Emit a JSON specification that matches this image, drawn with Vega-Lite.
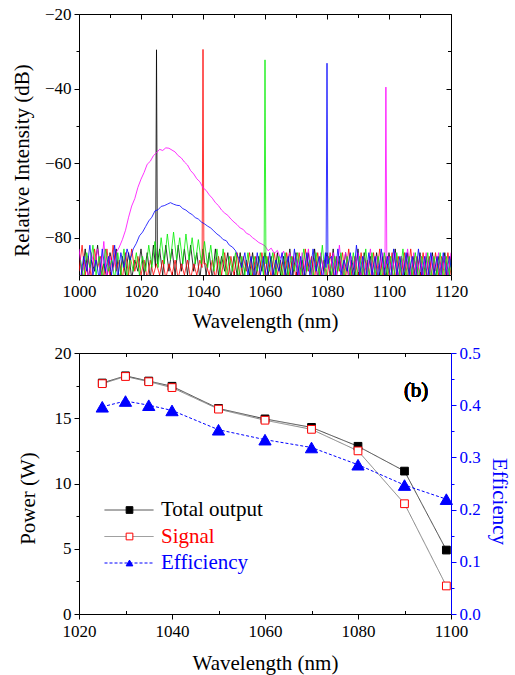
{
  "$schema": "https://vega.github.io/schema/vega-lite/v6.json",
  "background": "white",
  "padding": {"left": 11, "top": 5, "right": 5, "bottom": 5},
  "datasets": {
    "spec": [
      {"x":1000,"k":-84,"r":-89,"m":-83},{"x":1000.5,"g":-86,"b":-91},
      {"x":1001,"k":-90,"r":-82,"m":-90},{"x":1001.5,"g":-91,"b":-85},
      {"x":1002,"k":-83,"r":-90,"m":-86},{"x":1002.5,"g":-84,"b":-89},
      {"x":1003,"k":-91,"r":-85,"m":-91},{"x":1003.5,"g":-88,"b":-82},
      {"x":1004,"k":-86,"r":-91,"m":-84},{"x":1004.5,"g":-82,"b":-90},
      {"x":1005,"k":-89,"r":-83,"m":-88},{"x":1005.5,"g":-90,"b":-86},
      {"x":1006,"k":-82,"r":-88,"m":-83},{"x":1006.5,"g":-85,"b":-91},
      {"x":1007,"k":-90,"r":-85,"m":-90},{"x":1007.5,"g":-91,"b":-83},
      {"x":1008,"k":-87,"r":-91,"m":-81},{"x":1008.5,"g":-83,"b":-89},
      {"x":1009,"k":-91,"r":-83,"m":-91},{"x":1009.5,"g":-89,"b":-85},
      {"x":1010,"k":-84,"r":-90,"m":-85},{"x":1010.5,"g":-86,"b":-90},
      {"x":1011,"k":-88,"r":-82,"m":-89},{"x":1011.5,"g":-91,"b":-82},
      {"x":1012,"k":-83,"r":-89,"m":-84},{"x":1012.5,"g":-84,"b":-91},
      {"x":1013,"k":-92,"r":-86,"m":-82.5},{"x":1013.5,"g":-90,"b":-84},
      {"x":1014,"k":-85,"r":-91,"m":-80.5},{"x":1014.5,"g":-83,"b":-88},
      {"x":1015,"k":-90,"r":-84,"m":-78},{"x":1015.5,"g":-91,"b":-83},
      {"x":1016,"k":-84,"r":-90,"m":-74.5},{"x":1016.5,"g":-85,"b":-86},
      {"x":1017,"k":-91,"r":-83,"m":-71.5},{"x":1017.5,"g":-89,"b":-83},
      {"x":1018,"k":-86,"r":-89,"m":-69.5},{"x":1018.5,"g":-84,"b":-81.5},
      {"x":1019,"k":-89,"r":-85,"m":-66.5},{"x":1019.5,"g":-90,"b":-79.5},
      {"x":1020,"k":-83,"r":-90,"m":-64.3},{"x":1020.5,"g":-85,"b":-78.5},
      {"x":1021,"k":-90,"r":-86,"m":-62.5},{"x":1021.5,"g":-89,"b":-77},
      {"x":1022,"k":-84,"r":-91,"m":-60.3},{"x":1022.5,"g":-82,"b":-75.5},
      {"x":1023,"k":-91,"r":-86,"m":-59.5},{"x":1023.5,"g":-88,"b":-74.5},
      {"x":1024,"k":-82,"r":-90,"m":-58},{"x":1024.5,"g":-81,"b":-72.8},
      {"x":1024.7,"k":-88},
      {"x":1025,"k":-29.6,"r":-87,"m":-57.2},
      {"x":1025.3,"k":-87},{"x":1025.5,"g":-88,"b":-72.5},
      {"x":1026,"k":-83,"r":-90,"m":-56.3},{"x":1026.5,"g":-80,"b":-71.6},
      {"x":1027,"k":-90,"r":-86,"m":-56.6},{"x":1027.5,"g":-87,"b":-71.4},
      {"x":1028,"k":-82,"r":-91,"m":-55.9},{"x":1028.5,"g":-79,"b":-71.0},
      {"x":1029,"k":-89,"r":-87,"m":-56.0},{"x":1029.5,"g":-86,"b":-70.6},
      {"x":1030,"k":-83,"r":-90,"m":-56.5},{"x":1030.5,"g":-78.5,"b":-71.0},
      {"x":1031,"k":-90,"r":-86,"m":-57.0},{"x":1031.5,"g":-86,"b":-71.3},
      {"x":1032,"k":-82,"r":-91,"m":-58.0},{"x":1032.5,"g":-80,"b":-71.4},
      {"x":1033,"k":-89,"r":-87,"m":-58.6},{"x":1033.5,"g":-87,"b":-72.2},
      {"x":1034,"k":-83,"r":-90,"m":-59.7},{"x":1034.5,"g":-79,"b":-72.6},
      {"x":1035,"k":-90,"r":-86,"m":-60.5},{"x":1035.5,"g":-86,"b":-73.3},
      {"x":1036,"k":-82,"r":-91,"m":-62.0},{"x":1036.5,"g":-80,"b":-73.8},
      {"x":1037,"k":-89,"r":-87,"m":-62.9},{"x":1037.5,"g":-87,"b":-74.6},
      {"x":1038,"k":-84,"r":-90,"m":-64.2},{"x":1038.5,"g":-80.5,"b":-75.0},
      {"x":1039,"k":-91,"r":-86,"m":-65.0},{"x":1039.5,"g":-87,"b":-75.8},
      {"x":1039.7,"r":-88},
      {"x":1040,"k":-83,"r":-29.5,"m":-66.6},
      {"x":1040.3,"r":-87},{"x":1040.5,"g":-81,"b":-76.3},
      {"x":1041,"k":-90,"r":-87,"m":-67.3},{"x":1041.5,"g":-88,"b":-76.9},
      {"x":1042,"k":-84,"r":-90,"m":-68.5},{"x":1042.5,"g":-82,"b":-77.4},
      {"x":1043,"k":-91,"r":-86,"m":-69.4},{"x":1043.5,"g":-89,"b":-78.2},
      {"x":1044,"k":-83,"r":-91,"m":-70.6},{"x":1044.5,"g":-83,"b":-79.0},
      {"x":1045,"k":-90,"r":-85,"m":-71.4},{"x":1045.5,"g":-90,"b":-79.6},
      {"x":1046,"k":-85,"r":-90,"m":-72.6},{"x":1046.5,"g":-83,"b":-80.5},
      {"x":1047,"k":-89,"r":-84,"m":-73.4},{"x":1047.5,"g":-91,"b":-80.8},
      {"x":1048,"k":-84,"r":-91,"m":-74.0},{"x":1048.5,"g":-85,"b":-82.0},
      {"x":1049,"k":-91,"r":-85,"m":-75.0},{"x":1049.5,"g":-89,"b":-82.5},
      {"x":1050,"k":-85,"r":-90,"m":-75.8},{"x":1050.5,"g":-84,"b":-83.5},
      {"x":1051,"k":-90,"r":-84,"m":-76.5},{"x":1051.5,"g":-91,"b":-85.5},
      {"x":1052,"k":-84,"r":-91,"m":-77.4},{"x":1052.5,"g":-85,"b":-88},
      {"x":1053,"k":-91,"r":-85,"m":-77.8},{"x":1053.5,"g":-90,"b":-84},
      {"x":1054,"k":-86,"r":-89,"m":-78.8},{"x":1054.5,"g":-84,"b":-90},
      {"x":1055,"k":-90,"r":-84,"m":-79.2},{"x":1055.5,"g":-91,"b":-85},
      {"x":1056,"k":-84,"r":-90,"m":-80.0},{"x":1056.5,"g":-85,"b":-91},
      {"x":1057,"k":-91,"r":-85,"m":-80.6},{"x":1057.5,"g":-89,"b":-84},
      {"x":1058,"k":-85,"r":-91,"m":-81.3},{"x":1058.5,"g":-84,"b":-90},
      {"x":1059,"k":-89,"r":-84,"m":-81.7},{"x":1059.5,"g":-90,"b":-85},
      {"x":1059.7,"g":-88},
      {"x":1060,"k":-84,"r":-90,"g":-32.3,"m":-82.2},
      {"x":1060.3,"g":-87},{"x":1060.5,"g":-85,"b":-91},
      {"x":1061,"k":-90,"r":-85,"m":-83.5},{"x":1061.5,"g":-89,"b":-84},
      {"x":1062,"k":-85,"r":-91,"m":-82.8},{"x":1062.5,"g":-84,"b":-90},
      {"x":1063,"k":-91,"r":-84,"m":-84.2},{"x":1063.5,"g":-90,"b":-86},
      {"x":1064,"k":-84,"r":-90,"m":-83.4},{"x":1064.5,"g":-85,"b":-89},
      {"x":1065,"k":-90,"r":-86,"m":-85.5},{"x":1065.5,"g":-91,"b":-84},
      {"x":1066,"k":-85,"r":-91,"m":-83.6},{"x":1066.5,"g":-84,"b":-90},
      {"x":1067,"k":-91,"r":-84,"m":-86.5},{"x":1067.5,"g":-90,"b":-85},
      {"x":1068,"k":-83,"r":-90,"m":-84.0},{"x":1068.5,"g":-85,"b":-91},
      {"x":1069,"k":-90,"r":-85,"m":-87.5},{"x":1069.5,"g":-89,"b":-83},
      {"x":1070,"k":-84,"r":-91,"m":-84.5},{"x":1070.5,"g":-84,"b":-90},
      {"x":1071,"k":-90,"r":-84,"m":-90},{"x":1071.5,"g":-90,"b":-85},
      {"x":1072,"k":-86,"r":-90,"m":-84},{"x":1072.5,"g":-83,"b":-91},
      {"x":1073,"k":-91,"r":-83,"m":-89},{"x":1073.5,"g":-89,"b":-84},
      {"x":1074,"k":-84,"r":-89,"m":-83},{"x":1074.5,"g":-86,"b":-90},
      {"x":1075,"k":-90,"r":-85,"m":-90},{"x":1075.5,"g":-91,"b":-83},
      {"x":1076,"k":-83,"r":-91,"m":-86},{"x":1076.5,"g":-84,"b":-89},
      {"x":1077,"k":-91,"r":-84,"m":-91},{"x":1077.5,"g":-90,"b":-85},
      {"x":1078,"k":-85,"r":-90,"m":-84},{"x":1078.5,"g":-82,"b":-91},
      {"x":1079,"k":-89,"r":-86,"m":-90},{"x":1079.5,"g":-91,"b":-84},
      {"x":1079.7,"b":-88},
      {"x":1080,"k":-84,"r":-91,"b":-33.2,"m":-85},
      {"x":1080.3,"b":-87},{"x":1080.5,"g":-85,"b":-86},
      {"x":1081,"k":-90,"r":-84,"m":-89},{"x":1081.5,"g":-90,"b":-85},
      {"x":1082,"k":-83,"r":-90,"m":-84},{"x":1082.5,"g":-85,"b":-91},
      {"x":1083,"k":-91,"r":-85,"m":-90},{"x":1083.5,"g":-89,"b":-83},
      {"x":1084,"k":-85,"r":-89,"m":-82},{"x":1084.5,"g":-84,"b":-90},
      {"x":1085,"k":-90,"r":-84,"m":-91},{"x":1085.5,"g":-91,"b":-86},
      {"x":1086,"k":-84,"r":-91,"m":-84},{"x":1086.5,"g":-85,"b":-89},
      {"x":1087,"k":-91,"r":-83,"m":-90},{"x":1087.5,"g":-90,"b":-84},
      {"x":1088,"k":-86,"r":-90,"m":-85},{"x":1088.5,"g":-84,"b":-91},
      {"x":1089,"k":-90,"r":-85,"m":-89},{"x":1089.5,"g":-91,"b":-82},
      {"x":1090,"k":-83,"r":-91,"m":-84},{"x":1090.5,"g":-85,"b":-90},
      {"x":1091,"k":-91,"r":-84,"m":-91},{"x":1091.5,"g":-90,"b":-85},
      {"x":1092,"k":-84,"r":-90,"m":-85},{"x":1092.5,"g":-83,"b":-91},
      {"x":1093,"k":-90,"r":-86,"m":-90},{"x":1093.5,"g":-91,"b":-84},
      {"x":1094,"k":-85,"r":-91,"m":-83},{"x":1094.5,"g":-84,"b":-90},
      {"x":1095,"k":-91,"r":-84,"m":-91},{"x":1095.5,"g":-90,"b":-85},
      {"x":1096,"k":-84,"r":-90,"m":-85},{"x":1096.5,"g":-85,"b":-91},
      {"x":1097,"k":-90,"r":-83,"m":-89},{"x":1097.5,"g":-91,"b":-83},
      {"x":1098,"k":-85,"r":-91,"m":-84},{"x":1098.5,"g":-84,"b":-90},
      {"x":1098.7,"m":-88},
      {"x":1099,"k":-91,"r":-85,"m":-39.6},
      {"x":1099.3,"m":-87},{"x":1099.5,"g":-90,"b":-85},
      {"x":1100,"k":-84,"r":-90,"m":-85},{"x":1100.5,"g":-85,"b":-91},
      {"x":1101,"k":-90,"r":-84,"m":-90},{"x":1101.5,"g":-91,"b":-83},
      {"x":1102,"k":-83,"r":-91,"m":-84},{"x":1102.5,"g":-84,"b":-90},
      {"x":1103,"k":-91,"r":-85,"m":-91},{"x":1103.5,"g":-90,"b":-85},
      {"x":1104,"k":-85,"r":-90,"m":-85},{"x":1104.5,"g":-83,"b":-91},
      {"x":1105,"k":-90,"r":-84,"m":-89},{"x":1105.5,"g":-91,"b":-84},
      {"x":1106,"k":-84,"r":-91,"m":-83},{"x":1106.5,"g":-85,"b":-90},
      {"x":1107,"k":-91,"r":-83,"m":-90},{"x":1107.5,"g":-90,"b":-85},
      {"x":1108,"k":-85,"r":-90,"m":-84},{"x":1108.5,"g":-84,"b":-91},
      {"x":1109,"k":-90,"r":-85,"m":-91},{"x":1109.5,"g":-91,"b":-83},
      {"x":1110,"k":-84,"r":-91,"m":-85},{"x":1110.5,"g":-85,"b":-90},
      {"x":1111,"k":-91,"r":-84,"m":-90},{"x":1111.5,"g":-90,"b":-85},
      {"x":1112,"k":-85,"r":-90,"m":-84},{"x":1112.5,"g":-84,"b":-91},
      {"x":1113,"k":-90,"r":-85,"m":-91},{"x":1113.5,"g":-91,"b":-84},
      {"x":1114,"k":-84,"r":-91,"m":-85},{"x":1114.5,"g":-85,"b":-90},
      {"x":1115,"k":-91,"r":-84,"m":-89},{"x":1115.5,"g":-90,"b":-85},
      {"x":1116,"k":-85,"r":-90,"m":-84},{"x":1116.5,"g":-84,"b":-91},
      {"x":1117,"k":-90,"r":-85,"m":-90},{"x":1117.5,"g":-91,"b":-84},
      {"x":1118,"k":-84,"r":-91,"m":-85},{"x":1118.5,"g":-85,"b":-90},
      {"x":1119,"k":-91,"r":-84,"m":-91},{"x":1119.5,"g":-90,"b":-85},
      {"x":1120,"k":-85,"r":-90,"m":-84,"g":-86,"b":-88}
    ],
    "pw": [
      {"wl":1025,"Total output":17.7,"Signal":17.65,"Efficiency":0.397},
      {"wl":1030,"Total output":18.25,"Signal":18.2,"Efficiency":0.408},
      {"wl":1035,"Total output":17.85,"Signal":17.8,"Efficiency":0.4},
      {"wl":1040,"Total output":17.45,"Signal":17.35,"Efficiency":0.39},
      {"wl":1050,"Total output":15.75,"Signal":15.7,"Efficiency":0.353},
      {"wl":1060,"Total output":14.95,"Signal":14.85,"Efficiency":0.334},
      {"wl":1070,"Total output":14.3,"Signal":14.15,"Efficiency":0.319},
      {"wl":1080,"Total output":12.85,"Signal":12.5,"Efficiency":0.286},
      {"wl":1090,"Total output":10.95,"Signal":8.45,"Efficiency":0.247},
      {"wl":1099,"Total output":4.9,"Signal":2.15,"Efficiency":0.22}
    ]
  },
  "vconcat": [
    {
      "width": 372,
      "height": 261,
      "layer": [
        {
          "data": {"name": "spec"},
          "transform": [
            {"fold": ["k", "r", "g", "b", "m"], "as": ["s", "v"]},
            {"filter": "isValid(datum.v)"}
          ],
          "mark": {"type": "line", "strokeWidth": 0.8, "clip": true},
          "encoding": {
            "x": {"field": "x", "type": "quantitative", "scale": {"domain": [1000, 1120], "nice": false},
              "axis": {"orient": "bottom", "title": "Wavelength (nm)", "format": "d", "values": [1000,1010,1020,1030,1040,1050,1060,1070,1080,1090,1100,1110,1120],
                "labelExpr": "datum.value % 20 === 0 ? datum.label : ''",
                "tickSize": {"condition": {"test": "datum.value % 20 !== 0", "value": -3.5}, "value": 5},
                "labelPadding": 3, "titlePadding": 11}},
            "y": {"field": "v", "type": "quantitative", "scale": {"domain": [-90, -20], "nice": false, "zero": false},
              "axis": {"orient": "left", "title": "Relative Intensity (dB)", "format": "d", "values": [-80,-70,-60,-50,-40,-30,-20],
                "labelExpr": "datum.value % 20 === 0 ? datum.label : ''",
                "tickSize": {"condition": {"test": "datum.value % 20 !== 0", "value": 3}, "value": 5},
                "labelPadding": 3, "titlePadding": 12, "titleY": 146}},
            "color": {"field": "s", "type": "nominal", "legend": null,
              "scale": {"domain": ["k", "r", "g", "b", "m"], "range": ["#000000", "#ff0000", "#00ee00", "#0000ff", "#ff00ff"]}}
          }
        },
        {
          "mark": {"type": "text", "font": "Liberation Serif", "fontSize": 21, "fontWeight": "normal", "align": "center", "baseline": "middle"},
          "encoding": {
            "x": {"datum": 1108.7, "type": "quantitative", "scale": {"domain": [1000, 1120], "nice": false},
              "axis": {"orient": "top", "title": null, "labels": false, "values": [1000,1010,1020,1030,1040,1050,1060,1070,1080,1090,1100,1110,1120],
                "tickSize": {"condition": {"test": "datum.value % 20 !== 0", "value": -3.5}, "value": -5}}},
            "y": {"datum": -31.5, "type": "quantitative", "scale": {"domain": [-90, -20], "nice": false, "zero": false},
              "axis": {"orient": "right", "title": null, "labels": false, "values": [-80,-70,-60,-50,-40,-30,-20],
                "tickSize": {"condition": {"test": "datum.value % 20 !== 0", "value": -3.5}, "value": -5}}},
            "text": {"value": "(a)"}
          }
        }
      ],
      "resolve": {"axis": {"x": "independent", "y": "independent"}}
    },
    {
      "width": 372,
      "height": 261,
      "data": {"name": "pw"},
      "layer": [
        {
          "transform": [{"fold": ["Total output", "Signal"], "as": ["series", "power"]}],
          "encoding": {
            "x": {"field": "wl", "type": "quantitative", "scale": {"domain": [1020, 1100], "nice": false},
              "axis": {"orient": "bottom", "title": "Wavelength (nm)", "format": "d", "values": [1020,1030,1040,1050,1060,1070,1080,1090,1100],
                "labelExpr": "datum.value % 20 === 0 ? datum.label : ''",
                "tickSize": {"condition": {"test": "datum.value % 20 !== 0", "value": -3.5}, "value": 5},
                "labelPadding": 4, "titlePadding": 13}},
            "y": {"field": "power", "type": "quantitative", "scale": {"domain": [0, 20], "nice": false},
              "axis": {"orient": "left", "title": "Power (W)", "values": [0,2.5,5,7.5,10,12.5,15,17.5,20],
                "labelExpr": "datum.value % 5 === 0 ? datum.label : ''",
                "tickSize": {"condition": {"test": "datum.value % 5 !== 0", "value": 3}, "value": 5},
                "labelPadding": 3, "titlePadding": 16, "titleY": 145}}
          },
          "layer": [
            {
              "mark": {"type": "line", "strokeWidth": 1},
              "encoding": {
                "color": {"field": "series", "type": "nominal",
                  "scale": {"domain": ["Total output", "Signal", "Efficiency", "_"], "range": ["#404040", "#808080", "#0000ff", "#ffffff"]},
                  "legend": {"orient": "none", "legendX": 25, "legendY": 146, "title": null, "padding": 0,
                    "values": ["Total output", "Signal", "Efficiency"], "symbolType": "stroke", "symbolSize": 2401,
                    "symbolStrokeWidth": 1, "clipHeight": 22, "rowPadding": 4.5, "labelExpr": "''", "zindex": 1}},
                "strokeDash": {"field": "series", "type": "nominal",
                  "scale": {"domain": ["Total output", "Signal", "Efficiency", "_"], "range": [[1, 0], [1, 0], [3, 2], [1, 0]]}}
              }
            },
            {
              "mark": {"type": "point", "filled": true, "size": 60, "strokeWidth": 1, "opacity": 1},
              "encoding": {
                "shape": {"field": "series", "type": "nominal",
                  "scale": {"domain": ["Total output", "Signal", "Efficiency"], "range": ["square", "square", "triangle-up"]},
                  "legend": {"orient": "none", "legendX": 40, "legendY": 146, "title": null, "padding": 0,
                    "symbolSize": 45, "symbolStrokeWidth": 1, "symbolOpacity": 1, "clipHeight": 22, "rowPadding": 4.5,
                    "labelFont": "Liberation Serif", "labelFontSize": 21, "labelOffset": 21, "zindex": 2,
                    "labelColor": {"expr": "datum.value === 'Signal' ? '#ff0000' : datum.value === 'Efficiency' ? '#0000ff' : '#000000'"}}},
                "fill": {"field": "series", "type": "nominal",
                  "scale": {"domain": ["Total output", "Signal", "Efficiency"], "range": ["#000000", "#ffffff", "#0000ff"]}},
                "stroke": {"field": "series", "type": "nominal",
                  "scale": {"domain": ["Total output", "Signal", "Efficiency"], "range": ["#000000", "#ff0000", "#0000ff"]}}
              }
            }
          ]
        },
        {
          "transform": [{"fold": ["Efficiency"], "as": ["series", "eff"]}],
          "encoding": {
            "x": {"field": "wl", "type": "quantitative", "scale": {"domain": [1020, 1100], "nice": false}, "axis": null},
            "y": {"field": "eff", "type": "quantitative", "scale": {"domain": [0, 0.5], "nice": false},
              "axis": {"orient": "right", "title": "Efficiency", "values": [0,0.05,0.1,0.15,0.2,0.25,0.3,0.35,0.4,0.45,0.5],
                "labelExpr": "abs(datum.value*10 - round(datum.value*10)) < 0.001 ? format(datum.value, '.1f') : ''",
                "tickSize": {"condition": {"test": "abs(datum.value*10 - round(datum.value*10)) > 0.001", "value": 3}, "value": 5},
                "domainColor": "#0000ff", "tickColor": "#0000ff", "labelColor": "#0000ff", "titleColor": "#0000ff",
                "labelPadding": 3, "titlePadding": 8, "titleY": 148}}
          },
          "layer": [
            {
              "mark": {"type": "line", "strokeWidth": 1},
              "encoding": {
                "color": {"field": "series", "type": "nominal",
                  "scale": {"domain": ["Total output", "Signal", "Efficiency", "_"], "range": ["#404040", "#808080", "#0000ff", "#ffffff"]}},
                "strokeDash": {"field": "series", "type": "nominal",
                  "scale": {"domain": ["Total output", "Signal", "Efficiency", "_"], "range": [[1, 0], [1, 0], [3, 2], [1, 0]]}}
              }
            },
            {
              "mark": {"type": "point", "filled": true, "size": 150, "strokeWidth": 1, "opacity": 1},
              "encoding": {
                "shape": {"field": "series", "type": "nominal",
                  "scale": {"domain": ["Total output", "Signal", "Efficiency"], "range": ["square", "square", "triangle-up"]}},
                "fill": {"field": "series", "type": "nominal",
                  "scale": {"domain": ["Total output", "Signal", "Efficiency"], "range": ["#000000", "#ffffff", "#0000ff"]}},
                "stroke": {"field": "series", "type": "nominal",
                  "scale": {"domain": ["Total output", "Signal", "Efficiency"], "range": ["#000000", "#ff0000", "#0000ff"]}}
              }
            }
          ]
        },
        {
          "mark": {"type": "text", "font": "Liberation Serif", "fontSize": 21, "fontWeight": "normal", "align": "center", "baseline": "middle"},
          "encoding": {
            "x": {"datum": 1092.5, "type": "quantitative", "scale": {"domain": [1020, 1100], "nice": false},
              "axis": {"orient": "top", "title": null, "labels": false, "values": [1020,1030,1040,1050,1060,1070,1080,1090,1100],
                "tickSize": {"condition": {"test": "datum.value % 20 !== 0", "value": -3.5}, "value": -5}}},
            "y": {"datum": 17.1, "type": "quantitative", "scale": {"domain": [0, 20], "nice": false}, "axis": null},
            "text": {"value": "(b)"}
          }
        }
      ],
      "resolve": {"scale": {"y": "independent"}, "axis": {"x": "independent"}}
    }
  ],
  "spacing": 78,
  "bounds": "flush",
  "resolve": {"scale": {"color": "independent", "shape": "independent", "fill": "independent", "stroke": "independent", "strokeDash": "independent"}},
  "config": {
    "font": "Liberation Serif",
    "view": {"stroke": null},
    "axis": {
      "labelFont": "Liberation Serif", "titleFont": "Liberation Serif",
      "labelFontSize": 17, "titleFontSize": 21, "titleFontWeight": "normal",
      "labelColor": "#000000", "titleColor": "#000000", "domainColor": "#000000", "tickColor": "#000000",
      "domainWidth": 1, "tickWidth": 1, "grid": false, "labelFlush": false, "labelOverlap": false
    },
    "legend": {"labelFont": "Liberation Serif"},
    "text": {"font": "Liberation Serif"}
  }
}
